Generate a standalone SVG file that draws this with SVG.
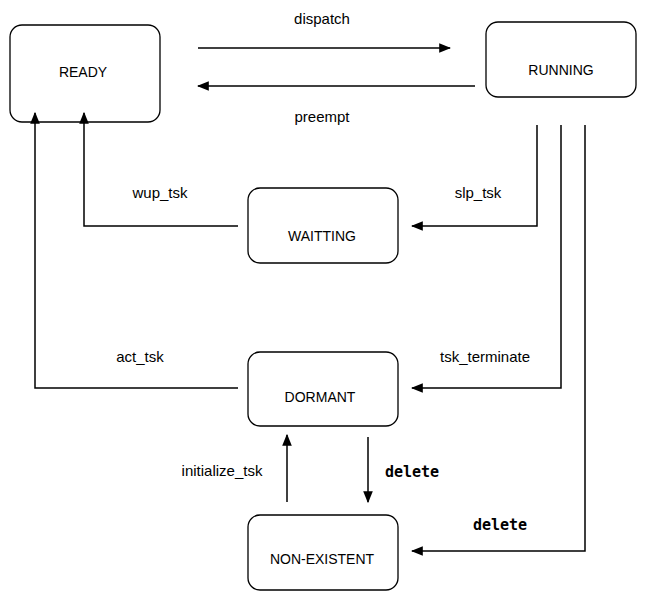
<svg xmlns="http://www.w3.org/2000/svg" width="646" height="599" viewBox="0 0 646 599">
<style>
.n{fill:#fff;stroke:#000;stroke-width:1.3}
.t{font-family:"Liberation Sans",Arial,sans-serif;font-size:14px;text-anchor:middle}
.l{font-family:"Liberation Sans",Arial,sans-serif;font-size:15px;text-anchor:middle}
.d{font-family:"DejaVu Sans Mono","Liberation Mono",monospace;font-size:15px;font-weight:bold;text-anchor:middle}
.c{fill:none;stroke:#000;stroke-width:1.5}
</style>
<defs><marker id="a" viewBox="0 0 10 10" refX="9" refY="5" markerWidth="8" markerHeight="8" orient="auto"><path d="M0,1 L10,5 L0,9 z" fill="#000"/></marker></defs>
<rect width="646" height="599" fill="#fff"/>
<g id="ready"><rect class="n" x="10" y="25" width="150" height="97" rx="12"/><text class="t" x="83" y="77">READY</text></g>
<g id="running"><rect class="n" x="486" y="22" width="150" height="75" rx="12"/><text class="t" x="561" y="75">RUNNING</text></g>
<g id="waiting"><rect class="n" x="248" y="188" width="150" height="75" rx="12"/><text class="t" x="322" y="241">WAITTING</text></g>
<g id="dormant"><rect class="n" x="248" y="352" width="150" height="74" rx="12"/><text class="t" x="320" y="402">DORMANT</text></g>
<g id="nonexistent"><rect class="n" x="248" y="515" width="150" height="75" rx="12"/><text class="t" x="322" y="564">NON-EXISTENT</text></g>
<g id="connectors">
<path class="c" d="M198,48 H450" marker-end="url(#a)"/>
<path class="c" d="M475,86 H198" marker-end="url(#a)"/>
<path class="c" d="M238,226 H84 V113" marker-end="url(#a)"/>
<path class="c" d="M537,125 V226 H412" marker-end="url(#a)"/>
<path class="c" d="M238,388 H35 V113" marker-end="url(#a)"/>
<path class="c" d="M561,125 V388 H412" marker-end="url(#a)"/>
<path class="c" d="M287,502 V435" marker-end="url(#a)"/>
<path class="c" d="M368,437 V502" marker-end="url(#a)"/>
<path class="c" d="M585,125 V551 H412" marker-end="url(#a)"/>
<text class="l" x="322" y="24">dispatch</text>
<text class="l" x="322" y="122">preempt</text>
<text class="l" x="160" y="198">wup_tsk</text>
<text class="l" x="478" y="198">slp_tsk</text>
<text class="l" x="140" y="362">act_tsk</text>
<text class="l" x="485" y="362">tsk_terminate</text>
<text class="l" x="222" y="476">initialize_tsk</text>
<text class="d" x="412" y="477">delete</text>
<text class="d" x="500" y="530">delete</text>
</g>
</svg>
